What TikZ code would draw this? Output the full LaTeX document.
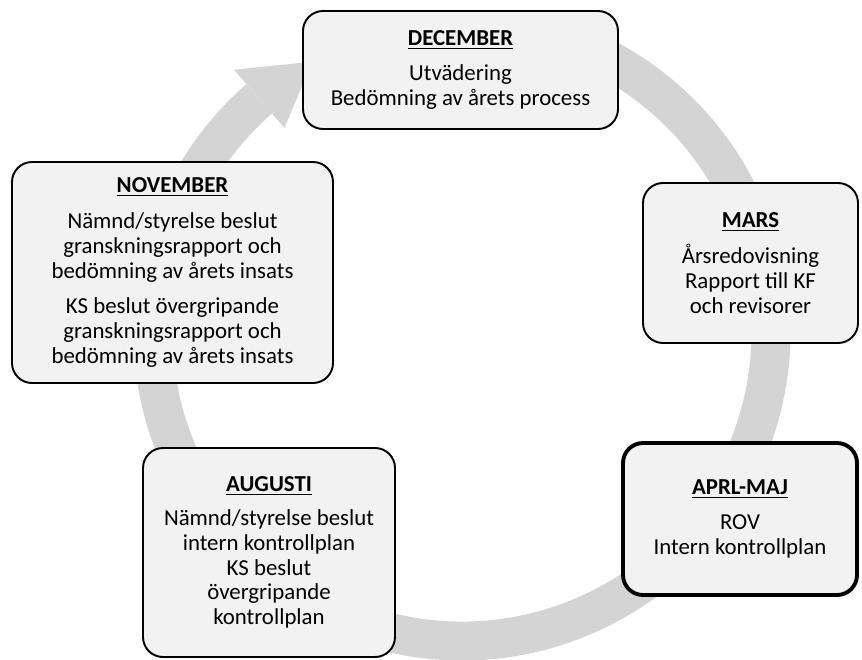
\documentclass[tikz,border=0pt]{standalone}
\usepackage{fontspec}
\setmainfont{Carlito}
\usetikzlibrary{positioning,calc}

\begin{document}
\begin{tikzpicture}[
    monthbox/.style={draw, line width=1.1pt, rounded corners=0.4cm, fill=black!5,
        align=center, inner sep=0pt, font=\fontsize{13}{14.2}\selectfont},
    ring/.style={draw=black!17, line width=0.78cm},
    ringhead/.style={fill=black!17}]
  \useasboundingbox (0,0) rectangle (17.24,13.18);
  \coordinate (c) at (9.24,6.54);
  % the cycle behind the boxes
  \draw[ring] ($(c)+(75:6.18)$) arc[start angle=75, end angle=-229, radius=6.18];
  \fill[ringhead] ($(c)+(131:6.95)$) -- ($(c)+(119:6.18)$) -- ($(c)+(131:5.41)$) -- cycle;
  % months
  \node[monthbox, minimum width=6.3cm, minimum height=2.36cm] (dec) at (9.21,11.78)
    {\underline{\textbf{DECEMBER}}\\[6pt]
     Utvädering\\
     Bedömning av årets process};
  \node[monthbox, minimum width=4.3cm, minimum height=3.2cm] (mars) at (15.01,7.92)
    {\underline{\textbf{MARS}}\\[6pt]
     Årsredovisning\\
     Rapport till KF\\
     och revisorer};
  \node[monthbox, line width=2.2pt, minimum width=4.68cm, minimum height=3.04cm] (aprmaj) at (14.8,2.8)
    {\underline{\textbf{APRL-MAJ}}\\[6pt]
     ROV\\
     Intern kontrollplan};
  \node[monthbox, minimum width=5.04cm, minimum height=4.18cm] (aug) at (5.38,2.13)
    {\underline{\textbf{AUGUSTI}}\\[5pt]
     Nämnd/styrelse beslut\\
     intern kontrollplan\\
     KS beslut\\
     övergripande\\
     kontrollplan};
  \node[monthbox, minimum width=6.42cm, minimum height=4.42cm] (nov) at (3.45,7.73)
    {\underline{\textbf{NOVEMBER}}\\[6pt]
     Nämnd/styrelse beslut\\
     granskningsrapport och\\
     bedömning av årets insats\\[6pt]
     KS beslut övergripande\\
     granskningsrapport och\\
     bedömning av årets insats};
\end{tikzpicture}
\end{document}
